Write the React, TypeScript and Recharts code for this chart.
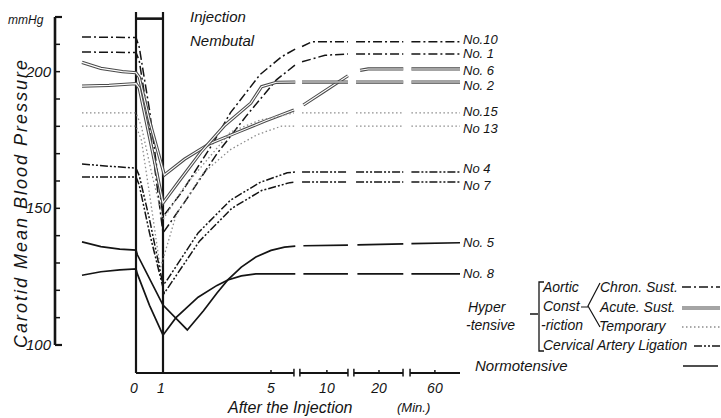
import React from 'react'
import { LineChart, Line, XAxis, YAxis, ReferenceLine } from 'recharts'

type Pt = [number, number | null]

// time runs 0..5 min linearly, then 10, 20, 60 min on a broken axis.
// null = gap in the curve where the time axis is broken
const no10: Pt[] = [[-2, 212.7], [0, 212.5], [0.12, 209], [0.5, 186], [1, 147], [1.7, 156], [2.8, 173], [3.5, 185], [4.6, 199], [5.4, 205.5], [5.9, 208.3], [6, null], [6.15, 209.2], [6.5, 210.9], [7.85, 210.9], [8, null], [8.15, 210.9], [9.9, 210.9], [10, null], [10.2, 210.9], [12, 210.9]]
const no1: Pt[] = [[-2, 207.2], [0, 207], [0.12, 204], [0.5, 180], [1, 141], [1.85, 153], [3, 170], [4.1, 184], [5.2, 197], [5.9, 202.5], [6, null], [6.15, 203.6], [7, 206], [7.85, 206.5], [8, null], [8.15, 206.5], [9.9, 206.5], [10, null], [10.2, 206.5], [12, 206.5]]
const no6: Pt[] = [[-2, 203.4], [-1.3, 201.2], [-0.5, 200], [0, 199.6], [0.12, 198], [0.5, 182], [1.05, 162.2], [1.8, 168], [2.7, 173.5], [3.7, 177.6], [4.8, 182], [5.85, 186], [6, null], [6.2, 187.8], [7, 193], [7.85, 198.5], [8, null], [8.3, 200.5], [8.6, 201], [9.9, 201], [10, null], [10.2, 201], [12, 201]]
const no2: Pt[] = [[-2, 194.7], [-1, 195], [0, 195.6], [0.12, 194], [0.5, 176], [1, 152], [1.6, 160], [2.4, 170.5], [3.3, 180.5], [4.25, 188.5], [4.65, 194.5], [5.2, 196.1], [5.9, 196.2], [6, null], [6.15, 196.2], [7.85, 196.2], [8, null], [8.15, 196.2], [9.9, 196.2], [10, null], [10.2, 196.2], [12, 196.2]]
const no15: Pt[] = [[-2, 184.9], [0, 184.9], [0.2, 180], [0.6, 162], [1, 146], [1.8, 158], [2.7, 168.5], [3.5, 177.9], [4.6, 182.3], [5.85, 184.9], [6, null], [6.15, 184.9], [7.85, 184.9], [8, null], [8.15, 184.9], [9.9, 184.9], [10, null], [10.2, 184.9], [12, 184.9]]
const no13: Pt[] = [[-2, 180.1], [0, 180.1], [0.2, 175], [0.55, 152], [0.9, 128], [1.5, 148], [2.5, 163], [3.5, 171.5], [4.5, 177], [5.4, 180.1], [5.9, 180.1], [6, null], [6.15, 180.1], [7.85, 180.1], [8, null], [8.15, 180.1], [9.9, 180.1], [10, null], [10.2, 180.1], [12, 180.1]]
const no4: Pt[] = [[-2, 166.2], [-1, 165.4], [0, 164.7], [0.12, 162], [0.5, 146], [1, 122], [1.1, 123], [2.3, 141], [3.5, 153], [4.6, 159.5], [5.6, 163], [5.9, 163.3], [6, null], [6.15, 163.3], [7.85, 163.3], [8, null], [8.15, 163.3], [9.9, 163.3], [10, null], [10.2, 163.3], [12, 163.3]]
const no7: Pt[] = [[-2, 161.5], [0, 161.5], [0.12, 158.5], [0.5, 141], [1.05, 119], [2.35, 138], [3.55, 150], [4.65, 156.5], [5.7, 159.4], [5.9, 159.6], [6, null], [6.15, 159.6], [7.85, 159.6], [8, null], [8.15, 159.6], [9.9, 159.6], [10, null], [10.2, 159.6], [12, 159.6]]
const no5: Pt[] = [[-2, 137.7], [-1.3, 136], [-0.6, 135.1], [0, 134.7], [0.05, 133], [1, 114.6], [1.9, 105.5], [2.5, 112.5], [3, 119], [3.4, 123.8], [3.9, 128.5], [4.44, 132.2], [5, 134.6], [5.5, 135.8], [5.9, 136.2], [6, null], [6.2, 136.3], [7.85, 136.5], [8, null], [8.2, 136.6], [9.9, 137], [10, null], [10.2, 137.1], [12, 137.4]]
const no8: Pt[] = [[-2, 125.5], [-1.3, 126.8], [-0.6, 127.5], [0, 127.8], [0.05, 126], [0.5, 114.5], [1, 103.6], [1.48, 110], [2.3, 117.5], [3, 121.8], [3.4, 123.8], [3.9, 125.3], [4.44, 126], [5.9, 126], [6, null], [6.2, 126], [7.85, 126], [8, null], [8.2, 126], [9.9, 126], [10, null], [10.2, 126], [12, 126]]

const yTicks = [100, 110, 120, 130, 140, 150, 160, 170, 180, 190, 200, 210, 220]
const xTickPos = [0, 1, 5, 7.07, 9, 11.07]
const xTickLabels = ['0', '1', '5', '10', '20', '60']
const axisPieces: [number, number][] = [[0, 5.85], [6.07, 7.85], [8.07, 9.89], [10.15, 12]]

type Kind = 'chron' | 'acute' | 'temp' | 'cerv' | 'normo'
// nudge: label shift in px so that neighbouring names do not collide
const series: { name: string; pts: Pt[]; kind: Kind; nudge: number }[] = [
  { name: 'No.10', pts: no10, kind: 'chron', nudge: -2 },
  { name: 'No. 1', pts: no1, kind: 'chron', nudge: 0 },
  { name: 'No. 6', pts: no6, kind: 'acute', nudge: 1.5 },
  { name: 'No. 2', pts: no2, kind: 'acute', nudge: 3 },
  { name: 'No.15', pts: no15, kind: 'temp', nudge: -1 },
  { name: 'No 13', pts: no13, kind: 'temp', nudge: 2 },
  { name: 'No 4', pts: no4, kind: 'cerv', nudge: -3 },
  { name: 'No 7', pts: no7, kind: 'cerv', nudge: 3 },
  { name: 'No. 5', pts: no5, kind: 'normo', nudge: 0 },
  { name: 'No. 8', pts: no8, kind: 'normo', nudge: 0 },
]

const INK = '#141414'
const FONT = "'Liberation Sans', Arial, sans-serif"
const Y_MIN = 89.75
const Y_MAX = 221.83

const styles: Record<Kind, { stroke: string; width: number; dash?: string }> = {
  chron: { stroke: INK, width: 1.5, dash: '9 3 2 3' },
  acute: { stroke: '#4a4a4a', width: 3.2 },
  temp: { stroke: '#8c8c8c', width: 1.3, dash: '1.5 2.5' },
  cerv: { stroke: INK, width: 1.5, dash: '8 2 2 2 2 2' },
  normo: { stroke: INK, width: 1.7 },
}

function endLabel(text: string, last: number, nudge: number) {
  return (p: any) =>
    p.index === last ? (
      <text x={p.x + 3} y={p.y + 4.5 + nudge} fontFamily={FONT} fontStyle="italic" fontSize={13} fill={INK}>
        {text}
      </text>
    ) : (
      <g />
    )
}

function YTick(props: any) {
  const { x, y, payload } = props
  const v = payload.value
  const long = v === 100 || v === 220
  return (
    <g>
      <line x1={x} x2={x + (long ? 7 : 5)} y1={y} y2={y} stroke={INK} strokeWidth={long ? 2.2 : 1.5} />
      {v % 50 === 0 && (
        <text x={x - 4} y={y + 5} textAnchor="end" fontFamily={FONT} fontStyle="italic" fontSize={15} fill={INK}>
          {v}
        </text>
      )}
    </g>
  )
}

function XTick(props: any) {
  const { x, y, payload, index } = props
  const i = xTickPos.indexOf(payload.value)
  return (
    <g>
      {index > 1 && <line x1={x} x2={x} y1={y - 3} y2={y} stroke={INK} strokeWidth={1.5} />}
      <text x={index < 2 ? x - 2 : x} y={y + 20} textAnchor="middle" fontFamily={FONT} fontStyle="italic" fontSize={14} fill={INK}>
        {xTickLabels[i]}
      </text>
    </g>
  )
}

const txt = { fontFamily: FONT, fontStyle: 'italic' as const, fill: INK }

function Annotations() {
  return (
    <svg width={721} height={418} style={{ position: 'absolute', left: 0, top: 0, pointerEvents: 'none' }}>
      <text x={8} y={24} fontSize={12} {...txt}>mmHg</text>
      <text transform="translate(27,203) rotate(-90)" textAnchor="middle" fontSize={18} letterSpacing={2} {...txt}>
        Carotid Mean Blood Pressure
      </text>
      <text x={190} y={22} fontSize={15} {...txt}>Injection</text>
      <text x={190} y={46} fontSize={15} {...txt}>Nembutal</text>
      <text x={228} y={413} fontSize={16} {...txt}>After the Injection</text>
      <text x={397} y={412} fontSize={13} {...txt}>(Min.)</text>

      <text x={468} y={312} fontSize={14} {...txt}>Hyper</text>
      <text x={466} y={330} fontSize={14} {...txt}>-tensive</text>
      <path d="M530 314 H538 M544 282 H539 V351 H544" stroke={INK} strokeWidth={1.3} fill="none" />
      <text x={543} y={292} fontSize={14} {...txt}>Aortic</text>
      <text x={543} y={311} fontSize={14} {...txt}>Const</text>
      <text x={541} y={330} fontSize={14} {...txt}>-riction</text>
      <text x={543} y={350} fontSize={14} {...txt}>Cervical Artery Ligation</text>
      <path d="M581 307 H588 M600 283 L588 306 L600 327" stroke={INK} strokeWidth={1.2} fill="none" />
      <text x={600} y={292} fontSize={14} {...txt}>Chron. Sust.</text>
      <text x={600} y={312} fontSize={14} {...txt}>Acute. Sust.</text>
      <text x={599} y={331} fontSize={14} {...txt}>Temporary</text>
      <text x={475} y={371} fontSize={15} {...txt}>Normotensive</text>

      <line x1={682} x2={720} y1={287} y2={287} stroke={INK} strokeWidth={1.4} strokeDasharray={styles.chron.dash} />
      <line x1={682} x2={720} y1={308} y2={308} stroke="#4a4a4a" strokeWidth={3.2} />
      <line x1={682} x2={720} y1={308} y2={308} stroke="#fff" strokeWidth={1.2} />
      <line x1={682} x2={720} y1={327} y2={327} stroke="#8c8c8c" strokeWidth={1.3} strokeDasharray={styles.temp.dash} />
      <line x1={694} x2={720} y1={346} y2={346} stroke={INK} strokeWidth={1.4} strokeDasharray={styles.cerv.dash} />
      <line x1={683} x2={718} y1={366} y2={366} stroke={INK} strokeWidth={1.7} />
    </svg>
  )
}

export default function App() {
  return (
    <div style={{ position: 'absolute', left: 0, top: 0, width: 721, height: 418, background: '#fff' }}>
      <LineChart width={721} height={418} margin={{ top: 12, right: 261, bottom: 15, left: 15 }}>
        <XAxis
          type="number"
          dataKey="t"
          domain={[-3, 12]}
          ticks={xTickPos}
          interval={0}
          axisLine={false}
          tickLine={false}
          tickSize={0}
          tickMargin={0}
          height={30}
          allowDataOverflow
          tick={<XTick />}
        />
        <YAxis
          type="number"
          domain={[Y_MIN, Y_MAX]}
          ticks={yTicks}
          interval={0}
          axisLine={false}
          tickLine={false}
          tickSize={0}
          tickMargin={0}
          width={40}
          allowDataOverflow
          tick={<YTick />}
        />
        {/* axes drawn as pieces: y axis 100-220, injection bracket, broken time axis */}
        <ReferenceLine segment={[{ x: -3, y: 100 }, { x: -3, y: 220 }]} stroke={INK} strokeWidth={2.6} ifOverflow="visible" />
        <ReferenceLine segment={[{ x: 0, y: Y_MIN }, { x: 0, y: Y_MAX }]} stroke={INK} strokeWidth={2.2} ifOverflow="visible" />
        <ReferenceLine segment={[{ x: 1, y: Y_MIN }, { x: 1, y: Y_MAX }]} stroke={INK} strokeWidth={2.2} ifOverflow="visible" />
        <ReferenceLine segment={[{ x: 0, y: 219.4 }, { x: 1, y: 219.4 }]} stroke={INK} strokeWidth={2.6} ifOverflow="visible" />
        {axisPieces.map(([a, b], i) => (
          <ReferenceLine key={'ax' + i} segment={[{ x: a, y: Y_MIN }, { x: b, y: Y_MIN }]} stroke={INK} strokeWidth={2.2} ifOverflow="visible" />
        ))}
        {axisPieces.slice(0, 3).map(([, b], i) => (
          <ReferenceLine key={'ca' + i} segment={[{ x: b, y: Y_MIN - 1.3 }, { x: b, y: Y_MIN + 1.6 }]} stroke={INK} strokeWidth={1.5} ifOverflow="visible" />
        ))}
        {axisPieces.slice(1).map(([a], i) => (
          <ReferenceLine key={'cb' + i} segment={[{ x: a, y: Y_MIN - 1.3 }, { x: a, y: Y_MIN + 1.6 }]} stroke={INK} strokeWidth={1.5} ifOverflow="visible" />
        ))}

        {series.flatMap((s) => {
          const data = s.pts.map(([t, v]) => ({ t, v }))
          const st = styles[s.kind]
          const main = (
            <Line
              key={s.name}
              data={data}
              dataKey="v"
              type="linear"
              stroke={st.stroke}
              strokeWidth={st.width}
              strokeDasharray={st.dash}
              dot={false}
              activeDot={false}
              connectNulls={false}
              isAnimationActive={false}
              label={endLabel(s.name, data.length - 1, s.nudge)}
            />
          )
          if (s.kind !== 'acute') return [main]
          return [
            main,
            <Line
              key={s.name + '-in'}
              data={data}
              dataKey="v"
              type="linear"
              stroke="#fff"
              strokeWidth={1.1}
              dot={false}
              activeDot={false}
              connectNulls={false}
              isAnimationActive={false}
            />,
          ]
        })}
      </LineChart>
      <Annotations />
    </div>
  )
}
